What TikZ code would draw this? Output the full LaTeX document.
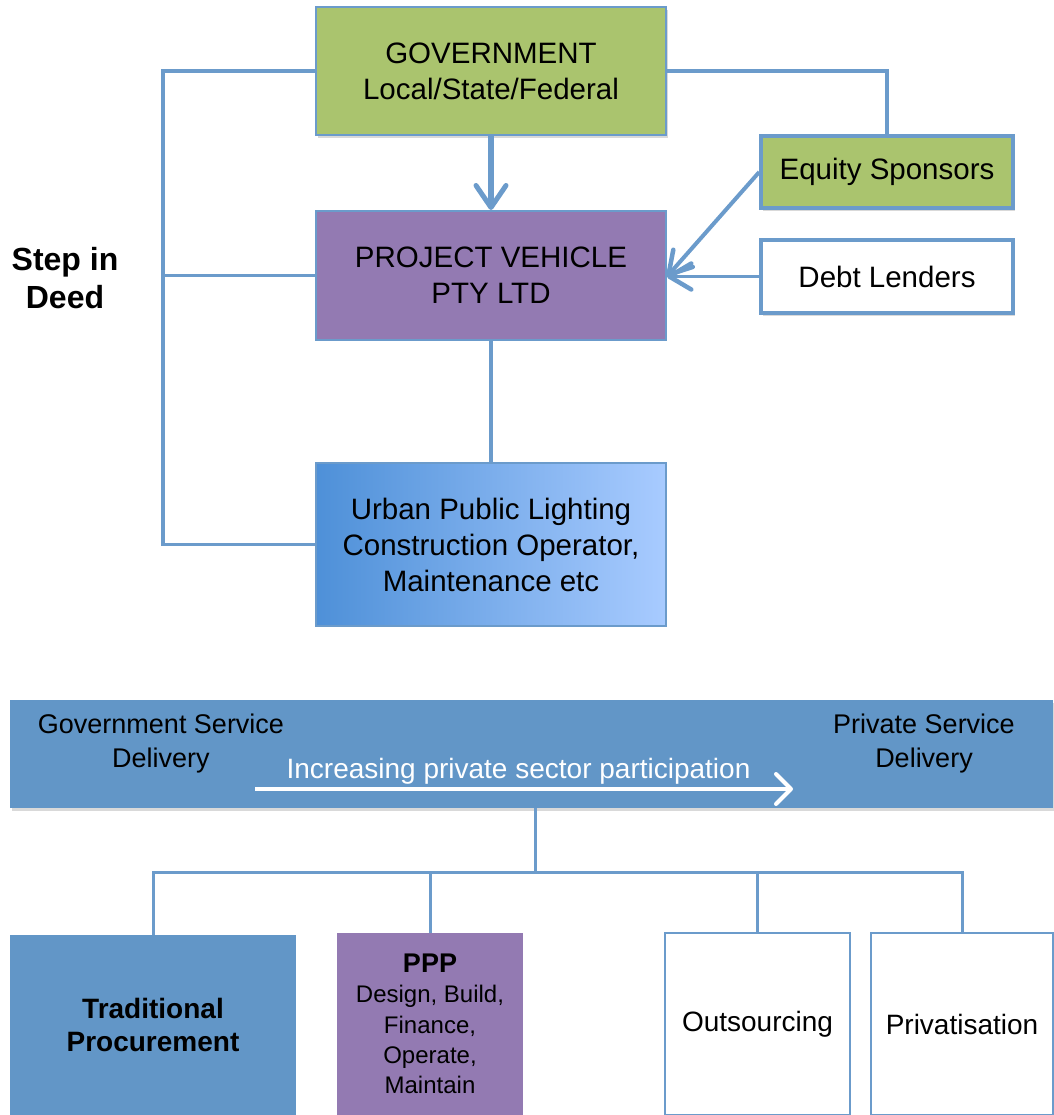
\documentclass[tikz,border=0pt]{standalone}
\usepackage{fontspec}
\setmainfont{Liberation Sans}
\usetikzlibrary{arrows.meta,shadows}
\definecolor{lineblue}{HTML}{6B9BCB}
\definecolor{boxgreen}{HTML}{AAC46E}
\definecolor{boxpurple}{HTML}{937AB2}
\definecolor{bandblue}{HTML}{6296C7}
\definecolor{urbanL}{HTML}{4E90D8}
\definecolor{urbanR}{HTML}{A8CBFF}
\tikzset{
  softshadow/.style={drop shadow={shadow xshift=2pt,shadow yshift=-3pt,opacity=0.15,fill=black}},
  topbox/.style={draw=lineblue, line width=2pt, inner sep=0pt, align=center,
    font=\fontsize{29.5}{36}\selectfont, minimum width=350pt},
  sidebox/.style={draw=lineblue, line width=3.5pt, inner sep=0pt, align=center,
    font=\fontsize{29.5}{36}\selectfont, minimum width=252pt, minimum height=72pt, softshadow},
  lowbox/.style={inner sep=0pt, align=center, minimum height=182pt},
  conn/.style={draw=lineblue, line width=3.5pt},
  barb/.style={-{Straight Barb[length=22pt,width=30pt,line width=5pt,round]}},
  sbarb/.style={-{Straight Barb[length=22pt,width=26pt,line width=4.5pt,round]}},
}
\begin{document}
\begin{tikzpicture}[x=1pt,y=-1pt]
\useasboundingbox (0,0) rectangle (1053,1115);

% ---------- upper diagram ----------
\node[topbox, fill=boxgreen, minimum height=128pt, softshadow] (gov) at (491,71)
  {GOVERNMENT\\Local/State/Federal};
\node[topbox, fill=boxpurple, minimum height=129pt] (pv) at (491,275.5)
  {PROJECT VEHICLE\\PTY LTD};
\node[topbox, left color=urbanL, right color=urbanR, minimum height=163pt] (urban) at (491,544.5)
  {Urban Public Lighting\\Construction Operator,\\Maintenance etc};
\node[sidebox, fill=boxgreen] (eq) at (887,172) {Equity Sponsors};
\node[sidebox, fill=white, minimum height=73pt] (dl) at (887,276.5) {Debt Lenders};
\node[align=center, inner sep=0pt, font=\fontsize{32}{38}\selectfont\bfseries] (step) at (65,278)
  {Step in\\Deed};

\coordinate (lx) at (163,0);
\coordinate (tip) at (pv.east |- dl.west);

\draw[conn] (gov.west) -| (lx |- urban.west) -- (urban.west);
\draw[conn] (lx |- pv.west) -- (pv.west);
\draw[conn] (gov.east) -| (eq.north);
\draw[conn] (pv.south) -- (urban.north);
\draw[conn, line width=5.5pt, barb] (gov.south) -- (pv.north);
\draw[conn, line width=4pt, sbarb] (eq.west) -- (tip);
\draw[conn, line width=3.5pt, sbarb] (dl.west) -- (tip);

% ---------- lower diagram ----------
\node[fill=bandblue, inner sep=0pt, minimum width=1043pt, minimum height=108pt, softshadow] (band) at (531.5,754) {};
\node[align=center, inner sep=0pt, font=\fontsize{27}{34}\selectfont] (gsd) at (161,744)
  {Government Service\\Delivery};
\node[align=center, inner sep=0pt, font=\fontsize{27}{34}\selectfont] (psd) at (924,744)
  {Private Service\\Delivery};
\node[anchor=base, inner sep=0pt, text=white, font=\fontsize{28}{34}\selectfont] (inc) at (518.5,778)
  {Increasing private sector participation};
\coordinate (as) at (255,789);
\coordinate (ae) at (793,789);
\draw[white, line width=4pt, -{Straight Barb[length=15pt,width=30pt,line width=4pt,round]}] (as) -- (ae);

\node[lowbox, fill=bandblue, minimum width=286pt, minimum height=180pt,
  font=\fontsize{28}{33}\selectfont\bfseries] (trad) at (153,1025)
  {Traditional\\Procurement};
\node[lowbox, fill=boxpurple, minimum width=186pt, font=\fontsize{24}{30.25}\selectfont] (ppp) at (430,1024)
  {{\fontsize{27}{30.25}\selectfont\bfseries PPP}\\Design, Build,\\Finance,\\Operate,\\Maintain};
\node[lowbox, draw=lineblue, line width=1.5pt, fill=white, minimum width=185pt,
  font=\fontsize{28}{34}\selectfont] (outs) at (757.5,1024) {Outsourcing};
\node[lowbox, draw=lineblue, line width=1.5pt, fill=white, minimum width=182pt,
  font=\fontsize{28}{34}\selectfont] (priv) at (962,1024) {Privatisation};

\coordinate (hub) at (535,872);
\draw[conn, line width=3pt] (band.south -| hub) -- (hub);
\draw[conn, line width=3pt] (trad.north) |- (hub) -| (priv.north);
\draw[conn, line width=3pt] (ppp.north) |- (hub);
\draw[conn, line width=3pt] (outs.north) |- (hub);
\end{tikzpicture}
\end{document}
